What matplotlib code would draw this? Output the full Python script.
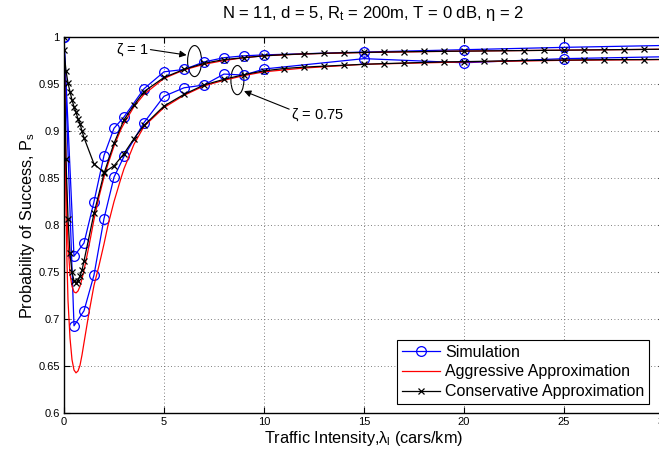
import matplotlib
matplotlib.use("Agg")
import matplotlib.pyplot as plt
from matplotlib.patches import Ellipse

plt.rcParams['font.family'] = ['Liberation Sans', 'DejaVu Sans']
plt.rcParams['mathtext.fontset'] = 'custom'
plt.rcParams['mathtext.rm'] = 'Liberation Sans'
plt.rcParams['mathtext.it'] = 'Liberation Sans'

# ---------------- data ----------------
sim_x = [0, 0.5, 1, 1.5, 2, 2.5, 3, 4, 5, 6, 7, 8, 9, 10, 15, 20, 25, 30]
sim_z1 = [1.0, 0.767, 0.781, 0.825, 0.874, 0.903, 0.915, 0.945, 0.963, 0.9655,
          0.9735, 0.978, 0.980, 0.981, 0.984, 0.9865, 0.989, 0.991]
sim_z075 = [1.0, 0.693, 0.709, 0.747, 0.807, 0.851, 0.873, 0.909, 0.937, 0.946,
            0.949, 0.9606, 0.9595, 0.966, 0.977, 0.9726, 0.977, 0.979]

agg_x = [0, 0.05, 0.1, 0.15, 0.2, 0.3, 0.4, 0.5, 0.6, 0.7, 0.8, 0.9, 1.0, 1.25,
         1.5, 1.75, 2.0, 2.2, 2.5, 2.85, 3.0, 3.5, 4, 5, 6, 7, 8, 9, 10, 12, 15,
         20, 25, 30]
agg_z1 = [1.0, 0.93, 0.86, 0.81, 0.78, 0.748, 0.735, 0.729, 0.728, 0.73, 0.735,
          0.743, 0.752, 0.778, 0.806, 0.83, 0.851, 0.865, 0.884, 0.902, 0.908,
          0.926, 0.939, 0.956, 0.965, 0.971, 0.975, 0.978, 0.98, 0.982, 0.9835,
          0.985, 0.986, 0.987]
agg_z075 = [1.0, 0.9, 0.82, 0.76, 0.72, 0.68, 0.657, 0.646, 0.643, 0.645, 0.651,
            0.662, 0.675, 0.707, 0.736, 0.757, 0.78, 0.80, 0.825, 0.85, 0.86,
            0.886, 0.905, 0.925, 0.938, 0.948, 0.954, 0.959, 0.963, 0.967,
            0.971, 0.9735, 0.9752, 0.976]

con_x = [0, 0.1, 0.2, 0.3, 0.4, 0.5, 0.6, 0.7, 0.8, 0.9, 1.0, 1.5, 2, 2.5, 3,
         3.5, 4, 5, 6, 7, 8, 9, 10, 11, 12, 13, 14, 15, 16, 17, 18, 19, 20, 21,
         22, 23, 24, 25, 26, 27, 28, 29, 30]
con_z1 = [1.0, 0.87, 0.807, 0.77, 0.75, 0.741, 0.739, 0.741, 0.746, 0.752,
          0.762, 0.8125, 0.855, 0.887, 0.912, 0.9276, 0.942, 0.957, 0.9655,
          0.972, 0.976, 0.978, 0.980, 0.9812, 0.982, 0.9827, 0.9832, 0.9836,
          0.984, 0.9843, 0.9846, 0.9848, 0.985, 0.9852, 0.9854, 0.9856, 0.9858,
          0.986, 0.9862, 0.9864, 0.9866, 0.9868, 0.987]
con_z075 = [0.986, 0.964, 0.951, 0.942, 0.933, 0.926, 0.92, 0.913, 0.908, 0.9,
            0.893, 0.865, 0.856, 0.863, 0.876, 0.892, 0.906, 0.9266, 0.939,
            0.949, 0.955, 0.960, 0.964, 0.9665, 0.968, 0.969, 0.970, 0.971,
            0.9717, 0.9723, 0.973, 0.9735, 0.9738, 0.9742, 0.9746, 0.975,
            0.9752, 0.9755, 0.9757, 0.9759, 0.976, 0.976, 0.9762]

x_ticks = [0, 5, 10, 15, 20, 25, 30]
y_ticks = [0.6, 0.65, 0.7, 0.75, 0.8, 0.85, 0.9, 0.95, 1.0]
y_ticklabels = ['0.6', '0.65', '0.7', '0.75', '0.8', '0.85', '0.9', '0.95', '1']

# ---------------- figure ----------------
fig = plt.figure(figsize=(6.59, 4.51), dpi=100)
ax = fig.add_axes([64/659, (451-413.3)/451, 600/659, 376.3/451])

sim_style = dict(color='#0000ff', lw=0.9, marker='o', ms=7, mfc='none',
                 mec='#0000ff', mew=0.9)
con_style = dict(color='black', lw=0.9, marker='x', ms=4.5, mew=0.9)

l1, = ax.plot(sim_x, sim_z1, **sim_style, label='Simulation')
ax.plot(sim_x, sim_z075, **sim_style)
l2, = ax.plot(agg_x, agg_z1, color='red', lw=0.9, label='Aggressive Approximation')
ax.plot(agg_x, agg_z075, color='red', lw=0.9)
l3, = ax.plot(con_x, con_z1, **con_style, label='Conservative Approximation')
ax.plot(con_x, con_z075, **con_style)

ax.set_xlim(0, 30)
ax.set_ylim(0.6, 1.0)
ax.set_xticks(x_ticks)
ax.set_yticks(y_ticks)
ax.set_yticklabels(y_ticklabels)
ax.tick_params(direction='in', top=True, right=True, labelsize=8, length=4,
               width=0.8, pad=3)
ax.grid(True, linestyle=(0, (1, 3)), color='#555555', lw=0.6)
for s in ax.spines.values():
    s.set_linewidth(1.0)

ax.set_xlabel(r'Traffic Intensity,$\lambda_l$ (cars/km)', fontsize=11.7, labelpad=1)
ax.set_ylabel(r'Probability of Success, P$_\mathregular{s}$', fontsize=11.7, labelpad=1)
ax.text(0.515, 1 + (37 - 13) / 376.3,
        r'N = 11, d = 5, R$_\mathregular{t}$ = 200m, T = 0 dB, $\eta$ = 2',
        transform=ax.transAxes, ha='center', va='center', fontsize=12)

# annotations
ax.add_patch(Ellipse((6.53, 0.9744), 0.70, 0.033, fill=False, ec='black', lw=0.8))
ax.add_patch(Ellipse((8.67, 0.9542), 0.65, 0.031, fill=False, ec='black', lw=0.8))
ax.annotate('', xy=(6.13, 0.9808), xytext=(4.32, 0.9866),
            arrowprops=dict(arrowstyle='-|>', color='black', lw=0.8,
                            mutation_scale=10, shrinkA=0, shrinkB=0))
ax.text(4.22, 0.987, r'$\zeta$ = 1', ha='right', va='center', fontsize=10.5)
ax.annotate('', xy=(9.0, 0.9425), xytext=(11.26, 0.9233),
            arrowprops=dict(arrowstyle='-|>', color='black', lw=0.8,
                            mutation_scale=10, shrinkA=0, shrinkB=0))
ax.text(11.36, 0.918, r'$\zeta$ = 0.75', ha='left', va='center', fontsize=10.5)

leg = ax.legend(handles=[l1, l2, l3], loc='lower right', fontsize=11.5,
                bbox_to_anchor=((649.3 - 64) / 600, (413.3 - 404) / 376.3),
                fancybox=False, framealpha=1, edgecolor='black', borderpad=0.3,
                labelspacing=0.3, handlelength=2.4, handletextpad=0.3,
                borderaxespad=0)
leg.get_frame().set_linewidth(0.8)

fig.savefig('out.png', dpi=100)
